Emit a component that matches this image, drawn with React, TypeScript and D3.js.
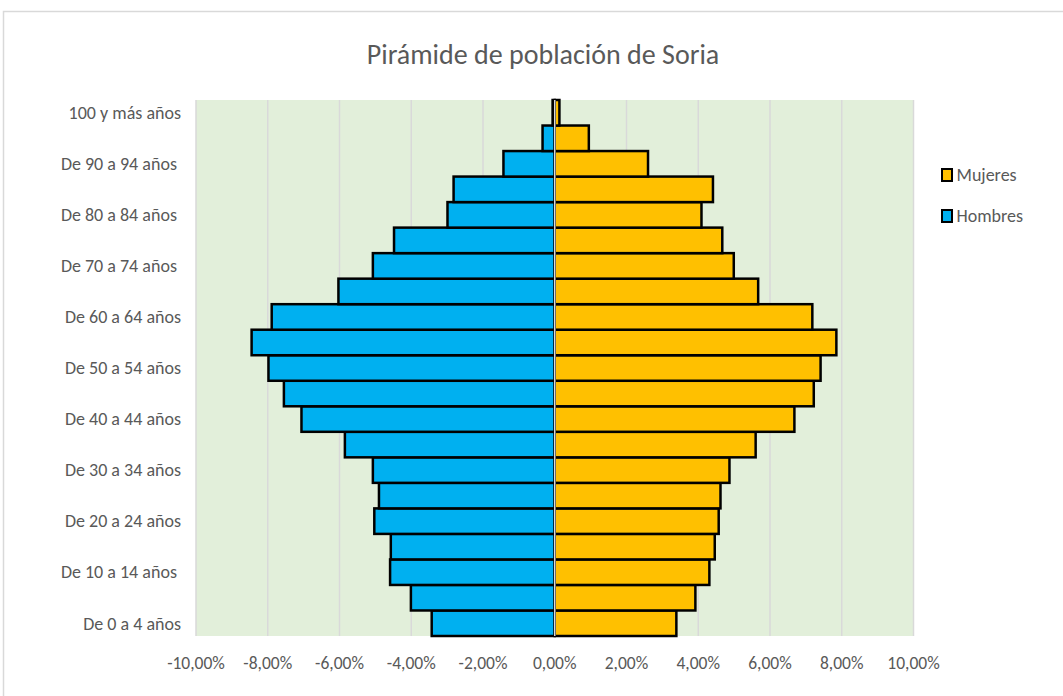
import React from "react";
import * as d3 from "d3";

const categories = [
  "De 0 a 4 años", "De 5 a 9 años", "De 10 a 14 años ", "De 15 a 19 años",
  "De 20 a 24 años", "De 25 a 29 años", "De 30 a 34 años", "De 35 a 39 años",
  "De 40 a 44 años", "De 45 a 49 años", "De 50 a 54 años", "De 55 a 59 años",
  "De 60 a 64 años", "De 65 a 69 años", "De 70 a 74 años ", "De 75 a 79 años",
  "De 80 a 84 años ", "De 85 a 89 años", "De 90 a 94 años ", "De 95 a 99 años",
  "100 y más años",
];
const hombres = [
  -3.43, -4.01, -4.59, -4.57, -5.03, -4.9, -5.07, -5.85, -7.06, -7.55, -7.98,
  -8.45, -7.89, -6.03, -5.07, -4.48, -2.99, -2.82, -1.43, -0.34, -0.06,
];
const mujeres = [
  3.39, 3.92, 4.31, 4.46, 4.57, 4.62, 4.87, 5.6, 6.68, 7.22, 7.41, 7.85, 7.18,
  5.67, 4.99, 4.67, 4.09, 4.41, 2.6, 0.95, 0.13,
];
const xTicks = [-10, -8, -6, -4, -2, 0, 2, 4, 6, 8, 10];
const title = "Pirámide de población de Soria";
const seriesNames = ["Mujeres", "Hombres"];

const W = 1063;
const H = 696;
const FONT = "Carlito, 'Liberation Sans Narrow', 'DejaVu Sans Condensed', 'Open Sans', sans-serif";
const TEXT = "#595959";

export default function App() {
  const left = 196, right = 913.5, top = 100, bottom = 636;
  const x = d3.scaleLinear().domain([-10, 10]).range([left, right]);
  const y = d3
    .scaleBand<number>()
    .domain(d3.range(categories.length).reverse())
    .range([top, bottom])
    .padding(0);
  const fmt = (v: number) => d3.format(".2f")(v).replace(".", ",").replace("−", "-") + "%";

  return (
    <div style={{ position: "absolute", left: 0, top: 0 }}>
      <svg width={W} height={H} style={{ display: "block", fontFamily: FONT }}>
        <rect x={0} y={0} width={W} height={H} fill="#fff" />
        <rect x={3.5} y={11.5} width={W + 10} height={H + 10} fill="#fff" stroke="#d9d9d9" strokeWidth={1.5} />
        <text x={543} y={64} textAnchor="middle" fontSize={28} fill={TEXT}>
          {title}
        </text>
        <rect x={left} y={top} width={right - left} height={bottom - top} fill="#e2efda" />
        {xTicks.map((t) => (
          <line key={t} x1={x(t)} x2={x(t)} y1={top} y2={bottom} stroke="#d9d9d9" strokeWidth={1.5} />
        ))}
        {categories.map((c, i) => (
          <g key={c}>
            <rect
              x={x(hombres[i])}
              y={y(i)!}
              width={x(0) - x(hombres[i])}
              height={y.bandwidth()}
              fill="#00b0f0"
              stroke="#000"
              strokeWidth={2.5}
            />
            <rect
              x={x(0)}
              y={y(i)!}
              width={x(mujeres[i]) - x(0)}
              height={y.bandwidth()}
              fill="#ffc000"
              stroke="#000"
              strokeWidth={2.5}
            />
          </g>
        ))}
        <line x1={x(0)} x2={x(0)} y1={top} y2={bottom} stroke="#d9d9d9" strokeWidth={1.5} />
        {categories.map((c, i) =>
          i % 2 === 0 ? (
            <text
              key={c}
              x={181}
              y={y(i)! + y.bandwidth() / 2}
              dy="0.35em"
              textAnchor="end"
              fontSize={18}
              fill={TEXT}
              style={{ whiteSpace: "pre" }}
            >
              {c}
            </text>
          ) : null
        )}
        {xTicks.map((t) => (
          <text key={t} x={x(t)} y={663} dy="0.35em" textAnchor="middle" fontSize={17.5} fill={TEXT}>
            {fmt(t)}
          </text>
        ))}
        {seriesNames.map((s, i) => (
          <g key={s} transform={`translate(942, ${169 + i * 41})`}>
            <rect x={0} y={0} width={10} height={12} fill={i === 0 ? "#ffc000" : "#00b0f0"} stroke="#000" strokeWidth={2} />
            <text x={14.5} y={6} dy="0.35em" fontSize={18} fill={TEXT}>
              {s}
            </text>
          </g>
        ))}
      </svg>
    </div>
  );
}
